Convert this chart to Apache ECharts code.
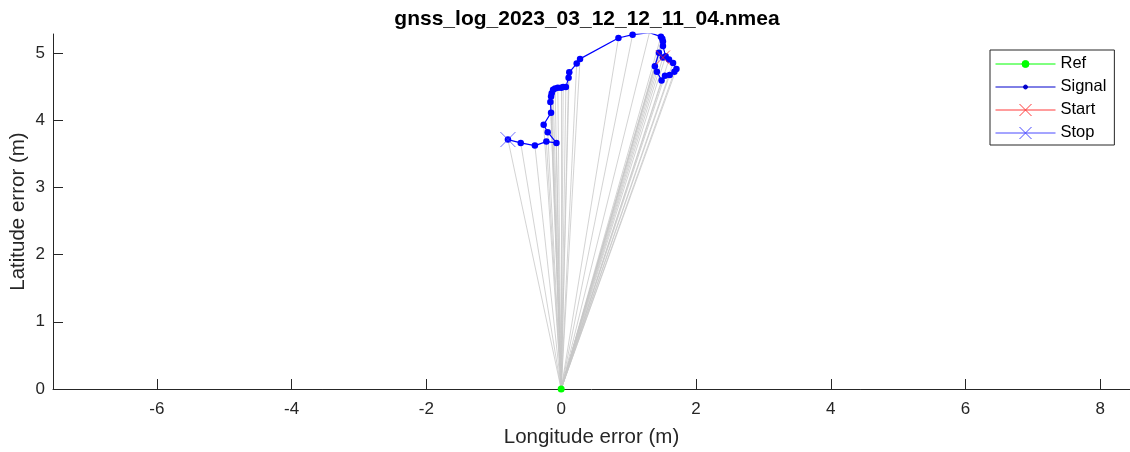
<!DOCTYPE html>
<html>
<head>
<meta charset="utf-8">
<script src="https://cdn.jsdelivr.net/npm/echarts@6/dist/echarts.min.js"></script>
<style>
html,body{margin:0;padding:0;background:#fff;}
#chart{width:1130px;height:452px;}
</style>
</head>
<body>
<div id="chart"></div>
<script>
// 数据：经度误差 / 纬度误差 (m)，从起点到终点
var lonErr = [1.51, 1.45, 1.39, 1.42, 1.49, 1.54, 1.61, 1.68, 1.71, 1.66, 1.60, 1.55, 1.51, 1.51, 1.50, 1.48,
    1.31, 1.06, 0.85, 0.28, 0.23, 0.12, 0.11, 0.07, 0.03, 0.00, -0.05, -0.09, -0.12, -0.14, -0.15, -0.16,
    -0.15, -0.26, -0.20, -0.07, -0.22, -0.39, -0.60, -0.79];
var latErr = [4.93, 5.00, 4.80, 4.72, 4.59, 4.66, 4.67, 4.72, 4.76, 4.85, 4.90, 4.95, 5.10, 5.17, 5.21, 5.24,
    5.30, 5.27, 5.22, 4.91, 4.84, 4.71, 4.63, 4.49, 4.49, 4.48, 4.48, 4.47, 4.45, 4.40, 4.35, 4.27,
    4.11, 3.93, 3.82, 3.66, 3.68, 3.62, 3.66, 3.71];
var refPoint = [0, 0];
var xTicks = [-6, -4, -2, 0, 2, 4, 6, 8];
var yTicks = [0, 1, 2, 3, 4, 5];

var signalData = [];
var rayData = [];
for (var i = 0; i < lonErr.length; i++) {
    signalData.push([lonErr[i], latErr[i]]);
    rayData.push({coords: [refPoint, [lonErr[i], latErr[i]]]});
}
var startPoint = signalData[0];
var stopPoint = signalData[signalData.length - 1];

var txt = '#262626';
var font = 'Liberation Sans';
// X 形标记
var xMark = 'path://M0,0L10,10M10,0L0,10';
// 图例图标（60x18 的框，线在中间）
var box = 'M0,0M0,18M60,0M60,18M0,9.5L60,9.5';

var chart = echarts.init(document.getElementById('chart'));
var option = {
    animation: false,
    textStyle: {fontFamily: font},
    title: {
        text: 'gnss_log_2023_03_12_12_11_04.nmea',
        left: 582,
        top: 4,
        textAlign: 'center',
        textStyle: {fontSize: 21, fontWeight: 'bold', color: '#000', fontFamily: font}
    },
    grid: {left: 53, right: 0, top: 34, bottom: 63, outerBoundsMode: 'none', containLabel: false},
    legend: {
        left: 990,
        top: 50,
        orient: 'vertical',
        padding: [4, 8, 3, 5],
        itemWidth: 60,
        itemHeight: 18,
        itemGap: 4,
        backgroundColor: '#fff',
        borderColor: '#262626',
        borderWidth: 1,
        borderRadius: 0,
        textStyle: {fontSize: 16.5, color: '#000', fontFamily: font},
        data: [
            {name: 'Ref', icon: 'path://' + box + 'M26.5,9.5a3.5,3.5 0 1 0 7,0a3.5,3.5 0 1 0 -7,0z',
                itemStyle: {color: '#00ff00', borderColor: '#00ff00', borderWidth: 1}},
            {name: 'Signal', icon: 'path://' + box + 'M28,9.5a2,2 0 1 0 4,0a2,2 0 1 0 -4,0z',
                itemStyle: {color: '#0000cc', borderColor: '#0000cc', borderWidth: 1}},
            {name: 'Start', icon: 'path://' + box + 'M24,3.5L36,15.5M36,3.5L24,15.5',
                itemStyle: {color: 'rgba(0,0,0,0)', borderColor: '#ff3b3b', borderWidth: 1}},
            {name: 'Stop', icon: 'path://' + box + 'M24,3.5L36,15.5M36,3.5L24,15.5',
                itemStyle: {color: 'rgba(0,0,0,0)', borderColor: '#4a4aff', borderWidth: 1}}
        ]
    },
    xAxis: {
        type: 'value',
        min: -7.54,
        max: 8.44,
        name: 'Longitude error (m)',
        nameLocation: 'middle',
        nameGap: 38,
        nameTextStyle: {fontSize: 20.5, color: txt, fontFamily: font},
        axisLine: {show: true, onZero: false, lineStyle: {color: txt, width: 1}},
        axisTick: {show: true, inside: true, length: 10, customValues: xTicks, lineStyle: {color: txt}},
        axisLabel: {customValues: xTicks, fontSize: 17, color: txt, margin: 12, fontFamily: font},
        splitLine: {show: false}
    },
    yAxis: {
        type: 'value',
        min: 0,
        max: 5.28,
        name: 'Latitude error (m)',
        nameLocation: 'middle',
        nameGap: 24,
        nameMoveOverlap: false,
        nameTextStyle: {fontSize: 20.5, color: txt, fontFamily: font},
        axisLine: {show: true, onZero: false, lineStyle: {color: txt, width: 1}},
        axisTick: {show: true, inside: true, length: 10, customValues: yTicks, lineStyle: {color: txt}},
        axisLabel: {customValues: yTicks, fontSize: 17, color: txt, margin: 8, fontFamily: font},
        splitLine: {show: false}
    },
    series: [
        {
            name: 'rays',
            type: 'lines',
            coordinateSystem: 'cartesian2d',
            silent: true,
            z: 1,
            lineStyle: {color: '#c8c8c8', width: 0.8, opacity: 1},
            data: rayData
        },
        {
            name: 'Ref',
            type: 'line',
            z: 5,
            symbol: 'circle',
            symbolSize: 7,
            itemStyle: {color: '#00ff00'},
            lineStyle: {color: '#00ff00'},
            data: [refPoint]
        },
        {
            name: 'Signal',
            type: 'line',
            z: 3,
            symbol: 'circle',
            symbolSize: 6.5,
            itemStyle: {color: '#0000ff'},
            lineStyle: {color: '#0000ff', width: 1.2},
            data: signalData
        },
        {
            name: 'Start',
            type: 'line',
            z: 4,
            symbol: xMark,
            symbolSize: 14,
            itemStyle: {color: 'rgba(0,0,0,0)', borderColor: 'rgba(255,40,40,0.75)', borderWidth: 1},
            lineStyle: {color: '#ff3b3b'},
            data: [startPoint]
        },
        {
            name: 'Stop',
            type: 'line',
            z: 4,
            symbol: xMark,
            symbolSize: 15,
            itemStyle: {color: 'rgba(0,0,0,0)', borderColor: 'rgba(60,60,255,0.75)', borderWidth: 1},
            lineStyle: {color: '#4a4aff'},
            data: [stopPoint]
        }
    ]
};
chart.setOption(option);
</script>
</body>
</html>
